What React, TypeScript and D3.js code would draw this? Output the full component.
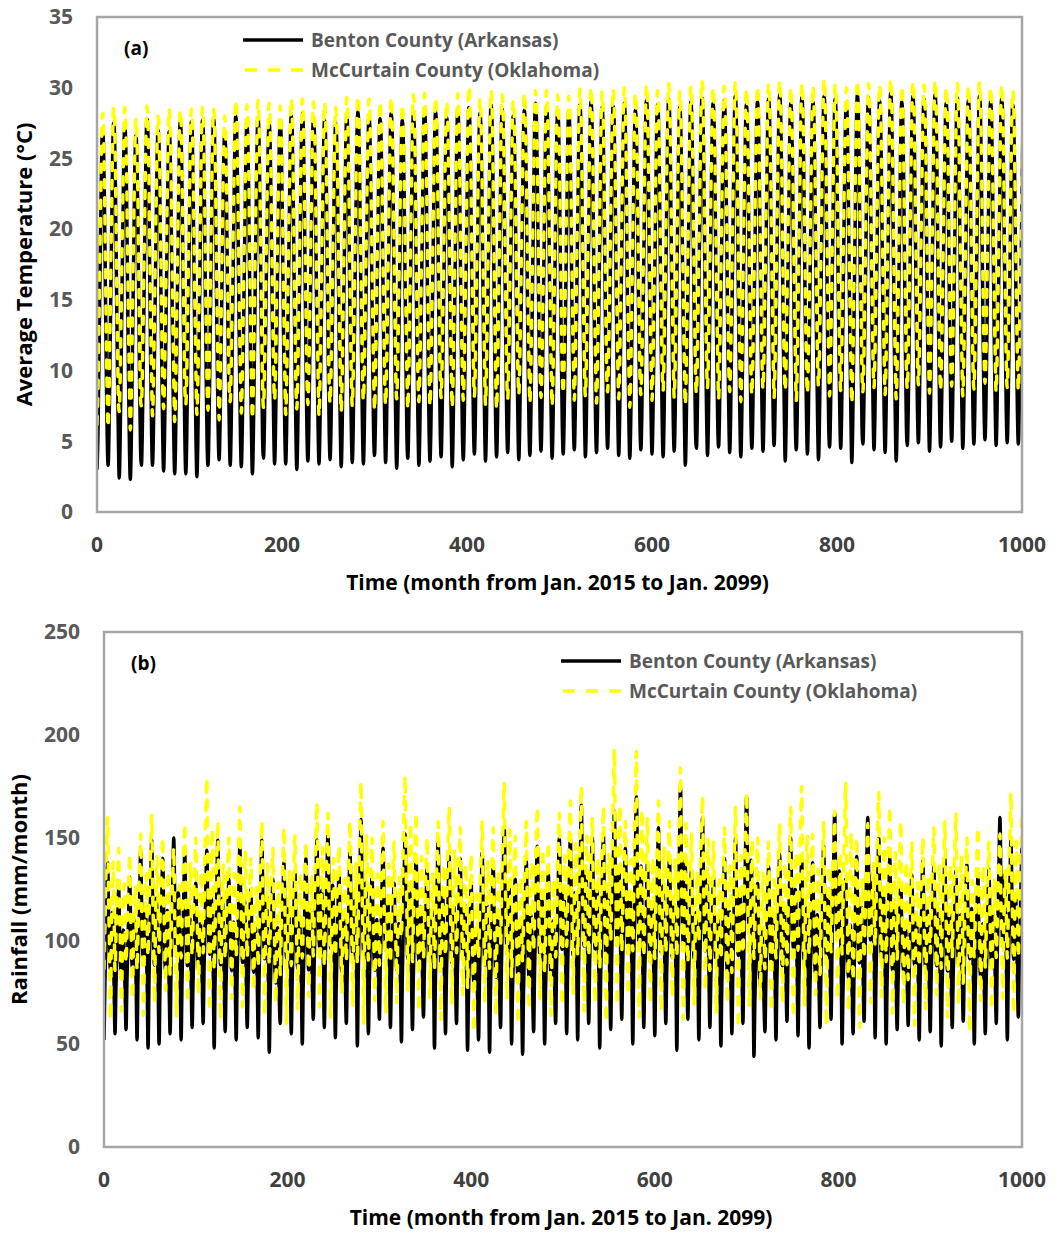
import React, { useRef, useEffect } from 'react';
import * as d3 from 'd3';

// Yearly extremes (84 years, Jan. 2015 ... Dec. 2098)
const bentonTempPeak = [
  27.0, 27.5, 27.3, 26.6, 27.8, 27.0, 26.9, 27.6, 27.6, 27.7, 27.8, 26.7, 28.0, 27.4, 27.9, 27.5, 27.6, 28.0, 28.2, 27.9, 27.7, 27.5, 28.0, 28.3, 28.0, 27.8, 28.2, 27.7, 28.1, 28.5,
  28.3, 27.9, 28.4, 28.6, 28.2, 28.8, 28.5, 28.0, 28.4, 28.9, 28.7, 28.4, 28.3, 28.8, 29.0, 28.6, 28.7, 28.9, 28.4, 29.1, 28.8, 29.2, 28.6, 29.0, 29.3, 28.9, 29.1, 29.4, 28.8, 29.0,
  29.2, 29.5, 28.9, 29.3, 29.0, 29.4, 29.2, 28.9, 29.5, 29.3, 29.1, 29.6, 29.0, 29.4, 29.2, 29.5, 28.9, 29.3, 29.1, 29.4, 29.0, 29.2, 28.8, 29.1,
];
const bentonTempLow = [
  3.0, 3.3, 2.4, 2.3, 3.3, 3.3, 2.9, 2.7, 2.7, 2.5, 3.3, 3.7, 3.3, 3.2, 2.7, 3.8, 3.4, 3.4, 3.0, 3.6, 3.4, 3.7, 3.2, 3.5, 3.4, 4.0, 3.5, 3.1, 3.8, 3.3,
  3.6, 3.9, 3.2, 3.7, 4.1, 3.6, 3.9, 4.2, 3.7, 4.0, 4.3, 3.8, 4.1, 4.4, 3.9, 4.2, 4.5, 4.0, 3.8, 4.4, 4.1, 3.9, 4.3, 3.3, 4.5, 4.0, 4.6, 4.2, 3.9, 4.5,
  4.3, 4.7, 3.6, 4.4, 4.1, 3.7, 4.6, 4.5, 3.5, 4.8, 4.4, 4.2, 3.6, 4.7, 4.9, 4.3, 4.6, 5.0, 4.5, 4.8, 5.1, 4.7, 4.9, 4.8,
];
const mccurtainTempPeak = [
  28.2, 28.6, 28.6, 27.8, 28.7, 28.0, 28.5, 28.4, 28.5, 28.6, 28.5, 28.0, 29.1, 28.8, 29.1, 28.9, 28.7, 29.2, 29.2, 29.0, 28.9, 28.6, 29.3, 29.4, 29.2, 29.0, 29.3, 28.8, 29.5, 29.6,
  29.3, 29.0, 29.6, 30.1, 29.2, 29.8, 29.5, 29.1, 29.6, 29.8, 29.8, 29.5, 29.4, 29.9, 30.0, 29.7, 29.9, 30.0, 29.6, 30.2, 29.8, 30.3, 29.7, 30.1, 30.5, 30.0, 30.1, 30.4, 29.9, 30.1,
  30.3, 30.5, 30.0, 30.3, 30.1, 30.6, 30.2, 30.0, 30.5, 30.3, 30.2, 30.6, 30.1, 30.4, 30.2, 30.5, 30.0, 30.3, 30.1, 30.4, 30.0, 30.2, 29.8, 30.1,
];
const mccurtainTempLow = [
  6.2, 6.0, 7.1, 5.8, 7.5, 6.8, 7.3, 6.4, 7.6, 6.9, 7.2, 6.5, 7.8, 7.0, 6.6, 7.4, 7.9, 6.9, 7.3, 7.6, 6.8, 7.7, 7.1, 7.5, 7.9, 7.2, 7.6, 8.0, 7.3, 7.8,
  7.5, 8.1, 7.4, 7.9, 8.2, 7.6, 7.3, 8.0, 8.3, 7.7, 8.1, 7.5, 8.4, 7.9, 8.2, 7.7, 8.5, 8.0, 7.4, 8.3, 7.9, 8.6, 8.1, 7.6, 8.4, 8.8, 8.0, 8.5, 7.8, 8.3,
  8.7, 8.1, 8.6, 7.9, 8.4, 8.9, 8.2, 8.6, 7.7, 8.5, 8.8, 8.3, 8.0, 8.7, 9.0, 8.4, 8.6, 8.9, 8.2, 8.7, 9.1, 8.5, 8.8, 8.6,
];

const bentonRainPeak = [
  138, 125, 131, 144, 149, 140, 150, 142, 128, 144, 149, 130, 146, 125, 149, 130, 138, 134, 140, 149, 154, 133, 143, 159, 132, 145, 128, 152, 140, 135,
  150, 141, 140, 128, 143, 137, 155, 130, 139, 146, 133, 150, 150, 166, 150, 152, 163, 145, 170, 138, 155, 140, 175, 134, 160, 131, 140, 150, 170, 128,
  136, 142, 150, 140, 138, 146, 162, 130, 141, 160, 150, 140, 128, 132, 139, 136, 140, 134, 137, 131, 135, 160, 150, 145,
];
const bentonRainLow = [
  52, 55, 57, 52, 48, 50, 55, 52, 58, 60, 48, 56, 52, 58, 53, 46, 60, 55, 50, 62, 58, 53, 60, 49, 55, 62, 58, 51, 57, 63,
  48, 55, 60, 47, 52, 46, 58, 50, 45, 56, 50, 60, 55, 52, 60, 48, 57, 62, 50, 58, 54, 60, 47, 62, 52, 58, 49, 55, 60, 44,
  56, 52, 61, 54, 48, 58, 62, 50, 55, 61, 53, 50, 57, 59, 52, 56, 49, 58, 61, 50, 55, 60, 52, 63,
];
const mccurtainRainPeak = [
  160, 145, 142, 152, 161, 150, 145, 157, 150, 179, 158, 150, 165, 140, 158, 145, 155, 151, 148, 167, 162, 146, 158, 177, 150, 158, 148, 180, 162, 150,
  158, 165, 155, 142, 158, 155, 177, 151, 158, 165, 148, 162, 168, 175, 160, 165, 193, 158, 192, 160, 168, 158, 184, 152, 170, 148, 155, 165, 172, 150,
  148, 157, 165, 175, 152, 158, 163, 177, 150, 157, 172, 165, 158, 148, 150, 155, 158, 162, 150, 155, 148, 152, 172, 162,
];
const mccurtainRainLow = [
  62, 66, 72, 64, 70, 76, 63, 70, 74, 66, 62, 72, 68, 76, 64, 70, 60, 67, 73, 68, 63, 75, 68, 60, 71, 65, 70, 76, 66, 72,
  62, 69, 74, 56, 70, 64, 72, 60, 67, 72, 64, 69, 74, 66, 70, 61, 69, 74, 63, 70, 66, 73, 62, 69, 76, 65, 70, 58, 68, 72,
  66, 70, 63, 69, 74, 59, 72, 66, 58, 70, 73, 65, 69, 59, 67, 74, 63, 69, 56, 71, 67, 72, 65, 69,
];

// Position of each month between the yearly low (0) and peak (1)
const tempSeason = [0, 0.1, 0.3, 0.52, 0.72, 0.92, 1, 0.96, 0.8, 0.55, 0.3, 0.1];
const bentonRainSeason = [0, 0.32, 0.55, 0.8, 1, 0.7, 0.5, 0.4, 0.6, 0.72, 0.55, 0.3];
const mccurtainRainSeason = [0.25, 0.45, 0.7, 0.85, 1, 0.6, 0.35, 0, 0.4, 0.62, 0.78, 0.5];

const xTicks = [0, 200, 400, 600, 800, 1000];
const tempTicks = [0, 5, 10, 15, 20, 25, 30, 35];
const rainTicks = [0, 50, 100, 150, 200, 250];

const seriesNames = ['Benton County (Arkansas)', 'McCurtain County (Oklahoma)'];

const monthly = (low, peak, season) => {
  const out = [];
  low.forEach((lo, yr) => {
    season.forEach((f, m) => out.push({ t: yr * 12 + m, v: lo + f * (peak[yr] - lo) }));
  });
  return out;
};

const FONT = '"Open Sans", Lato, sans-serif';

function drawPanel(svg, cfg) {
  const { left, right, top, bottom, yMax, yTicks, black, yellow, yTitle, tag, legendX, legendY, id, yTitleX } = cfg;
  const x = d3.scaleLinear().domain([0, 1000]).range([left, right]);
  const y = d3.scaleLinear().domain([0, yMax]).range([bottom, top]);

  svg.append('clipPath').attr('id', id)
    .append('rect').attr('x', left).attr('y', top - 10).attr('width', right - left).attr('height', bottom - top + 10);

  const line = d3.line().x(d => x(d.t)).y(d => y(d.v)).curve(d3.curveMonotoneX);
  const g = svg.append('g').attr('clip-path', `url(#${id})`);
  g.append('path').datum(black).attr('d', line)
    .attr('fill', 'none').attr('stroke', '#000').attr('stroke-width', 3.5).attr('stroke-linejoin', 'round');
  g.append('path').datum(yellow).attr('d', line)
    .attr('fill', 'none').attr('stroke', '#ffff00').attr('stroke-width', 3.5)
    .attr('stroke-dasharray', '8,10').attr('stroke-linecap', 'round');

  // plot frame
  svg.append('rect').attr('x', left).attr('y', top).attr('width', right - left).attr('height', bottom - top)
    .attr('fill', 'none').attr('stroke', '#a6a6a6').attr('stroke-width', 2.5);

  svg.append('g').selectAll('text').data(yTicks).join('text')
    .attr('x', left - 24).attr('y', d => y(d)).attr('dy', '0.35em')
    .attr('text-anchor', 'end').attr('font-family', FONT).attr('font-weight', 'bold')
    .attr('font-size', 21).attr('fill', '#595959').text(d => d);

  svg.append('g').selectAll('text').data(xTicks).join('text')
    .attr('x', d => x(d)).attr('y', bottom + 40)
    .attr('text-anchor', 'middle').attr('font-family', FONT).attr('font-weight', 'bold')
    .attr('font-size', 21).attr('fill', '#404040').text(d => d);

  svg.append('text').attr('x', (left + right) / 2 - 2).attr('y', bottom + 78)
    .attr('text-anchor', 'middle').attr('font-family', FONT).attr('font-weight', 'bold')
    .attr('font-size', 21).attr('fill', '#000').text('Time (month from Jan. 2015 to Jan. 2099)');

  svg.append('text').attr('transform', `translate(${yTitleX},${(top + bottom) / 2}) rotate(-90)`)
    .attr('text-anchor', 'middle').attr('font-family', FONT).attr('font-weight', 'bold')
    .attr('font-size', 22).attr('fill', '#000').text(yTitle);

  svg.append('text').attr('x', left + 27).attr('y', top + 38)
    .attr('font-family', FONT).attr('font-weight', 'bold')
    .attr('font-size', 19).attr('fill', '#000').text(tag);

  // legend
  const lg = svg.append('g').attr('transform', `translate(${legendX},${legendY})`);
  lg.append('line').attr('x1', 0).attr('x2', 60).attr('y1', 0).attr('y2', 0)
    .attr('stroke', '#000').attr('stroke-width', 3.5);
  lg.append('line').attr('x1', 2).attr('x2', 60).attr('y1', 30).attr('y2', 30)
    .attr('stroke', '#ffff00').attr('stroke-width', 3.5).attr('stroke-dasharray', '12,11');
  lg.selectAll('text.leg').data(seriesNames).join('text').attr('class', 'leg')
    .attr('x', 68).attr('y', (d, i) => i * 30).attr('dy', '0.35em')
    .attr('font-family', FONT).attr('font-weight', 'bold')
    .attr('font-size', 19).attr('fill', '#595959').text(d => d);
}

const App = () => {
  const svgRef = useRef(null);

  useEffect(() => {
    const svg = d3.select(svgRef.current);
    svg.selectAll('*').remove();

    drawPanel(svg, {
      id: 'clipA', left: 97, right: 1022, top: 17, bottom: 512, yMax: 35, yTicks: tempTicks,
      black: monthly(bentonTempLow, bentonTempPeak, tempSeason),
      yellow: monthly(mccurtainTempLow, mccurtainTempPeak, tempSeason),
      yTitle: 'Average Temperature (°C)', yTitleX: 32, tag: '(a)', legendX: 243, legendY: 40,
    });

    drawPanel(svg, {
      id: 'clipB', left: 104, right: 1022, top: 632, bottom: 1147, yMax: 250, yTicks: rainTicks,
      black: monthly(bentonRainLow, bentonRainPeak, bentonRainSeason),
      yellow: monthly(mccurtainRainLow, mccurtainRainPeak, mccurtainRainSeason),
      yTitle: 'Rainfall (mm/month)', yTitleX: 27, tag: '(b)', legendX: 561, legendY: 661,
    });
  }, []);

  return (
    <svg ref={svgRef} width={1057} height={1237}
      style={{ position: 'absolute', left: 0, top: 0, background: '#fff' }} />
  );
};

export default App;
